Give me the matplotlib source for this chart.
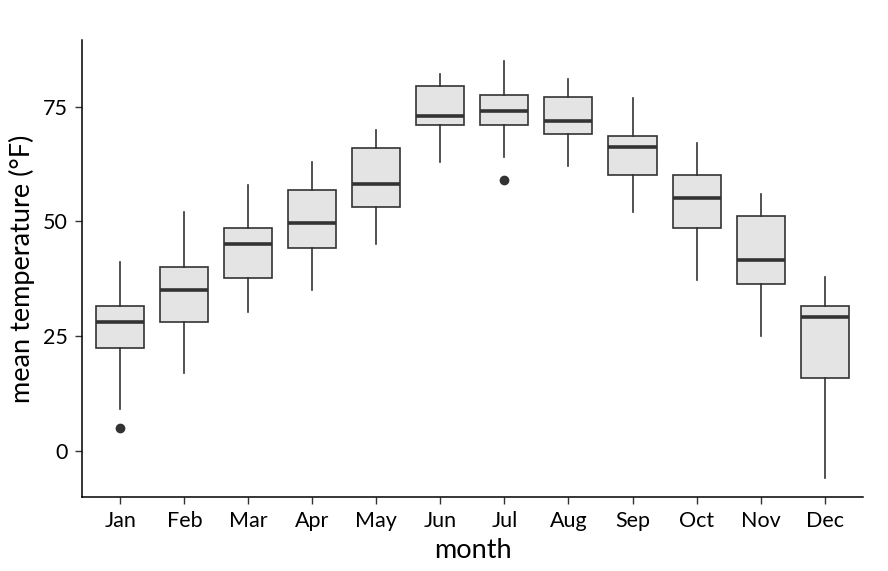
import matplotlib
matplotlib.use("Agg")
import matplotlib.pyplot as plt

months = ["Jan", "Feb", "Mar", "Apr", "May", "Jun", "Jul", "Aug", "Sep", "Oct", "Nov", "Dec"]
whisker_low = [9.1, 17.1, 30.2, 35.1, 45.1, 63.0, 64.1, 62.1, 52.1, 37.2, 25.0, -5.9]
q1 = [22.5, 28.1, 37.6, 44.3, 53.1, 71.0, 71.0, 69.0, 60.0, 48.6, 36.3, 15.8]
median = [28.2, 35.1, 45.1, 49.6, 58.1, 73.0, 74.0, 71.9, 66.1, 55.2, 41.6, 29.2]
q3 = [31.6, 40.1, 48.6, 56.8, 66.0, 79.5, 77.5, 77.0, 68.7, 60.1, 51.1, 31.6]
whisker_high = [41.1, 52.0, 58.0, 62.9, 70.0, 82.0, 84.9, 80.9, 76.9, 67.0, 56.0, 38.0]
outliers = [[5.0], [], [], [], [], [], [59.0], [], [], [], [], []]

plt.rcParams['font.family'] = ['Lato', 'DejaVu Sans']

fig = plt.figure(figsize=(8.88, 5.71), dpi=100)
ax = fig.add_axes([0.0923, 0.1296, 0.8795, 0.8004])

stats = []
for i, m in enumerate(months):
    stats.append(dict(label=m, whislo=whisker_low[i], q1=q1[i], med=median[i],
                      q3=q3[i], whishi=whisker_high[i], fliers=outliers[i]))

edge = "#333333"
ax.bxp(stats, positions=range(1, 13), widths=0.75, patch_artist=True,
       showcaps=False,
       boxprops=dict(facecolor="#e4e4e4", edgecolor=edge, linewidth=1.2),
       medianprops=dict(color=edge, linewidth=2.6, solid_capstyle='butt'),
       whiskerprops=dict(color=edge, linewidth=1.2),
       flierprops=dict(marker='o', markerfacecolor=edge, markeredgecolor=edge,
                       markersize=6, linestyle='none'))

ax.set_xlim(0.4, 12.6)
ax.set_ylim(-10, 89.5)
ax.set_yticks([0, 25, 50, 75])
ax.set_xticks(range(1, 13))
ax.set_xticklabels(months)

for s in ["top", "right"]:
    ax.spines[s].set_visible(False)
for s in ["left", "bottom"]:
    ax.spines[s].set_linewidth(1.1)
    ax.spines[s].set_color("black")

ax.tick_params(axis='both', length=5, width=1.0, color="#333333",
               labelsize=15.5, labelcolor="black")
ax.tick_params(axis='x', pad=5)
ax.tick_params(axis='y', pad=5)
ax.set_xlabel("month", fontsize=19.5, labelpad=5)
ax.set_ylabel("mean temperature (°F)", fontsize=19.5, labelpad=6)

fig.savefig("out.png", dpi=100)
